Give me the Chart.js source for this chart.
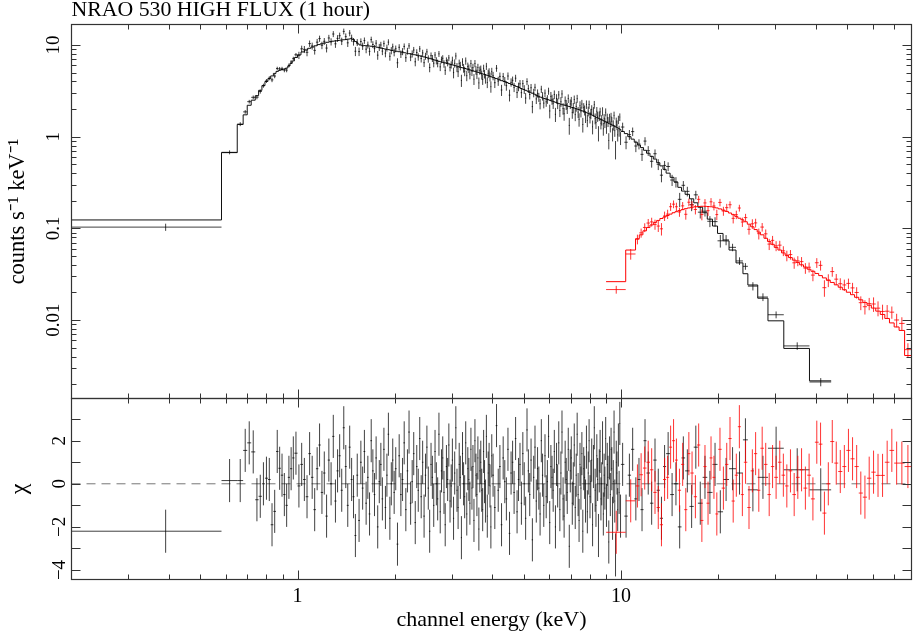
<!DOCTYPE html>
<html><head><meta charset="utf-8">
<script src="https://cdn.jsdelivr.net/npm/chart.js@4.4.1/dist/chart.umd.min.js"></script>
<style>
html,body{margin:0;padding:0;background:#fff;}
#wrap{position:relative;width:913px;height:634px;overflow:hidden;}
canvas{position:absolute;left:0;top:0;}
</style></head><body>
<div id="wrap"><canvas id="bot" width="913" height="634"></canvas><canvas id="top" width="913" height="634"></canvas></div>
<script>
// ---------------- text ----------------
const titleText = 'NRAO 530 HIGH FLUX (1 hour)';
const xTitle = 'channel energy (keV)';
const yTopTitle = 'counts s\u207B\u00B9 keV\u207B\u00B9';
const yBotTitle = '\u03C7';

// ---------------- axes ----------------
const xRange = [0.2, 79.2];
const yTopRange = [0.001393, 16.73];
const yBotRange = [-4.441, 3.958];
const xLabelTicks = [1, 10];
const xMinorTicks = [0.3,0.4,0.5,0.6,0.7,0.8,0.9,2,3,4,5,6,7,8,9,20,30,40,50,60,70];
const yTopLabelTicks = [0.01, 0.1, 1, 10];
const yTopMinorTicks = [0.002,0.003,0.004,0.005,0.006,0.007,0.008,0.009,0.02,0.03,0.04,0.05,0.06,0.07,0.08,0.09,0.2,0.3,0.4,0.5,0.6,0.7,0.8,0.9,2,3,4,5,6,7,8,9];
const yBotLabelTicks = [-4, -2, 0, 2];
const yBotMinorTicks = [-3, -1, 1, 3];

// ---------------- black model (step function, keV bin edges) ----------------
const blackModelEdges = [0.20,0.582,0.651,0.679,0.699,0.719,0.740,0.758,0.776,0.793,0.810,0.826,0.842,0.858,0.873,0.888,0.903,0.918,0.933,0.948,0.963,0.978,
1.000,1.025,1.050,1.075,1.100,1.125,1.150,1.175,1.200,1.225,1.250,1.275,1.300,1.325,1.350,1.375,1.400,1.425,1.450,1.475,1.500,1.525,1.550,1.575,1.600,1.625,1.650,1.675,1.700,1.725,1.750,1.775,1.800,1.825,1.850,1.875,1.900,1.925,1.950,1.975,
2.00,2.04,2.08,2.12,2.16,2.20,2.24,2.28,2.32,2.36,2.40,2.44,2.48,2.52,2.56,2.60,2.64,2.68,2.72,2.76,2.80,2.84,2.88,2.92,2.96,3.00,3.04,3.08,3.12,3.16,3.20,3.24,3.28,3.32,3.36,3.40,3.44,3.48,3.52,3.56,3.60,3.64,3.68,3.72,3.76,3.80,3.84,3.88,3.92,3.96,
4.00,4.08,4.16,4.24,4.32,4.40,4.48,4.56,4.64,4.72,4.80,4.88,4.96,5.04,5.12,5.20,5.28,5.36,5.44,5.52,5.60,5.68,5.76,5.84,5.92,6.00,6.08,6.16,6.24,6.32,6.40,6.48,6.56,6.64,6.72,6.80,6.88,6.96,7.04,7.12,7.20,7.28,7.36,7.44,7.52,7.60,7.68,7.76,7.84,7.92,8.00,8.08,8.16,8.24,8.32,8.40,8.48,8.56,8.64,8.72,8.80,8.88,8.96,9.04,9.12,9.20,9.28,9.36,9.44,9.52,9.60,9.68,9.76,9.84,9.92,
10.0,10.25,10.5,10.75,11.0,11.25,11.5,11.75,12.0,12.3,12.6,12.9,13.2,13.5,13.8,14.2,14.6,15.0,15.4,15.8,16.3,16.8,17.3,17.9,18.5,19.2,19.9,20.7,21.6,22.7,23.85,24.7,26.5,28.5,31.9,38.3,44.7];
const blackModel = [0.1235,0.67,1.36,1.73,2.2,2.5,2.8,3.2,3.6,4.0,4.3,4.6,4.9,5.15,5.3,5.4,5.45,5.6,5.9,6.3,6.7,7.3,
7.8,8.4,8.8,9.2,9.5,9.8,10.1,10.3,10.5,10.7,10.85,11.0,11.1,11.2,11.3,11.4,11.5,11.6,11.7,11.5,10.9,10.3,10.0,9.9,9.85,9.8,9.75,9.7,9.6,9.55,9.45,9.35,9.25,9.15,9.05,8.95,8.9,8.8,8.7,8.6,
8.55,8.45,8.34,8.24,8.14,8.04,7.94,7.83,7.73,7.63,7.52,7.41,7.30,7.19,7.08,6.96,6.85,6.74,6.63,6.54,6.46,6.38,6.30,6.22,6.14,6.06,5.98,5.90,5.81,5.73,5.67,5.60,5.54,5.47,5.41,5.34,5.28,5.21,5.15,5.08,5.02,4.95,4.89,4.84,4.78,4.72,4.67,4.61,4.55,4.50,
4.41,4.30,4.18,4.08,3.99,3.90,3.80,3.71,3.62,3.53,3.43,3.35,3.28,3.20,3.13,3.05,2.98,2.91,2.83,2.76,2.70,2.65,2.61,2.57,2.53,2.49,2.45,2.41,2.37,2.33,2.29,2.26,2.23,2.21,2.18,2.16,2.13,2.11,2.08,2.06,2.03,2.00,1.98,1.95,1.92,1.90,1.87,1.84,1.81,1.78,1.76,1.73,1.70,1.67,1.64,1.62,1.59,1.56,1.54,1.52,1.49,1.47,1.45,1.43,1.40,1.38,1.36,1.34,1.32,1.30,1.28,1.26,1.24,1.22,1.20,
1.14,1.08,1.0,0.94,0.87,0.81,0.76,0.71,0.66,0.61,0.57,0.52,0.48,0.44,0.40,0.36,0.32,0.28,0.255,0.235,0.21,0.19,0.17,0.148,0.126,0.106,0.088,0.073,0.058,0.042,0.032,0.0241,0.0173,0.0098,0.0049,0.00217];

// ---------------- black data bins (keV edges) and residuals (chi) ----------------
const blackDataEdges = [0.20,0.582,0.651,0.679,0.699,0.719,0.740,0.758,0.776,0.793,0.810,0.826,0.842,0.858,0.873,0.888,0.903,0.918,0.933,0.948,0.963,0.978,
1.00,1.02,1.04,1.06,1.08,1.10,1.12,1.14,1.16,1.18,1.20,1.22,1.24,1.26,1.28,1.30,1.32,1.34,1.36,1.38,1.40,1.42,1.44,1.46,1.48,1.50,1.52,1.54,1.56,1.58,1.60,1.62,1.64,1.66,1.68,1.70,1.72,1.74,1.76,1.78,1.80,1.82,1.84,1.86,1.88,1.90,1.92,1.94,1.96,1.98,
2.000,2.025,2.050,2.075,2.100,2.125,2.150,2.175,2.200,2.225,2.250,2.275,2.300,2.325,2.350,2.375,2.400,2.425,2.450,2.475,2.500,2.525,2.550,2.575,2.600,2.625,2.650,2.675,2.700,2.725,2.750,2.775,2.800,2.825,2.850,2.875,2.900,2.925,2.950,2.975,
3.000,3.025,3.050,3.075,3.100,3.125,3.150,3.175,3.200,3.225,3.250,3.275,3.300,3.325,3.350,3.375,3.400,3.425,3.450,3.475,3.500,3.525,3.550,3.575,3.600,3.625,3.650,3.675,3.700,3.725,3.750,3.775,3.800,3.825,3.850,3.875,3.900,3.925,3.950,3.975,
4.00,4.05,4.10,4.15,4.20,4.25,4.30,4.35,4.40,4.45,4.50,4.55,4.60,4.65,4.70,4.75,4.80,4.85,4.90,4.95,5.00,5.05,5.10,5.15,5.20,5.25,5.30,5.35,5.40,5.45,5.50,5.55,5.60,5.65,5.70,5.75,5.80,5.85,5.90,5.95,
6.00,6.05,6.10,6.15,6.20,6.25,6.30,6.35,6.40,6.45,6.50,6.55,6.60,6.65,6.70,6.75,6.80,6.85,6.90,6.95,7.00,7.05,7.10,7.15,7.20,7.25,7.30,7.35,7.40,7.45,7.50,7.55,7.60,7.65,7.70,7.75,7.80,7.85,7.90,7.95,
8.00,8.05,8.10,8.15,8.20,8.25,8.30,8.35,8.40,8.45,8.50,8.55,8.60,8.65,8.70,8.75,8.80,8.85,8.90,8.95,9.00,9.05,9.10,9.15,9.20,9.25,9.30,9.35,9.40,9.45,9.50,9.55,9.60,9.65,9.70,9.75,9.80,9.85,9.90,9.95,
10.0,10.25,10.5,10.75,11.0,11.25,11.5,11.75,12.0,12.3,12.6,12.9,13.2,13.5,13.8,14.2,14.6,15.0,15.4,15.8,16.3,16.8,17.3,17.9,18.5,19.2,19.9,20.7,21.6,22.7,23.85,24.7,26.5,28.5,31.9,38.3,44.7];
const blackChi = [-2.2,0.15,0.15,1.55,1.9,1.48,-0.74,-0.58,0.0,0.26,0.2,-1.9,-1.28,1.5,0.72,0.4,-0.5,-1.0,0.3,0.7,1.2,1.42,
-0.1,0.9,0.2,-0.6,1.4,0.3,-1.2,0.7,1.8,-0.4, 0.5,-1.5,1.1,0.0,2.2,-0.8,0.6,1.3,-0.3,2.6, 0.8,-1.0,1.7,0.2,-0.6,-2.4,0.4,-1.7,1.0,-0.2,
1.5,-0.9,0.3,-1.4,2.0,0.6,-0.5,1.2,-2.0,0.1, 0.9,-0.7,1.6,-1.1,0.4,2.3,-1.6,0.0,1.1,-0.4,
0.7,-2.8,1.3,-0.5,0.2,1.9,-1.2,0.6,2.4,-0.9, 0.1,1.4,-1.8,0.8,-0.3,2.1,-0.6,1.0,-1.5,0.4, 1.7,-0.2,-2.2,0.9,0.3,-1.0,1.5,0.0,-0.7,2.3, -1.3,0.6,1.2,-0.4,-1.9,0.8,0.2,1.8,-0.8,-0.1,
1.1,-1.6,0.5,2.6,-0.3,-1.1,0.9,0.3,-2.5,1.4, 0.0,-0.6,1.9,-1.4,0.7,0.2,-0.9,1.6,-0.2,0.8, -1.7,2.0,0.4,-0.5,1.2,-2.1,0.6,1.0,-0.3,-1.2, 1.5,0.1,-0.8,2.2,-1.5,0.5,0.9,-0.1,-2.0,1.3,
0.4,-1.1,2.7,-0.3,0.8,-1.9,1.2,0.1,-0.7,1.6, -2.3,0.5,1.0,-0.4,2.1,-1.3,0.2,0.9,-0.9,1.4, 0.0,-1.6,2.5,0.6,-0.5,1.1,-2.6,0.3,1.7,-0.8, 0.7,-0.2,-1.4,2.0,0.4,-1.0,1.3,-0.6,0.1,2.2,
-1.8,0.8,0.3,-0.3,1.5,-2.0,0.9,-0.1,1.9,-1.2, 0.5,2.4,-0.7,-1.5,1.0,0.2,-0.4,1.6,-2.9,0.6, 1.2,-0.9,0.0,1.8,-1.1,0.4,2.3,-0.5,-1.7,0.9, -0.2,1.4,-2.2,0.7,0.3,-0.8,1.7,-1.3,0.5,2.0,
-0.6,0.1,1.1,-1.9,0.8,2.6,-0.3,-1.0,1.3,0.2, -2.4,0.6,1.5,-0.7,0.0,1.9,-1.4,0.4,-0.2,2.1, -1.0,0.9,0.3,-2.7,1.2,-0.5,1.6,0.7,-1.6,0.1, 2.4,-0.8,-3.3,1.0,0.5,-1.2,1.8,-0.4,2.8,-1.5,
0.9,-1.5,0.4,1.6,-0.7,0.2,-1.2,2.0,0.5,-0.9,1.1,-0.3,-1.6,0.8,1.4,-0.5,0.0,-2.0,1.2,0.6,-1.05,1.7,-0.9,0.3,-0.4,0.9,-1.3,0.2,0.7,0.5,2.04,-0.28,0.3,1.65,0.65,-0.28];
// fractional 1-sigma errors of the black data, per energy band
const blackErrBandEdges = [0.6, 1, 3, 6, 10, 22];
const blackErrBandVals = [0.075, 0.05, 0.09, 0.11, 0.13, 0.13, 0.10];

// ---------------- red spectrum (model and data share bins) ----------------
const redEdges = [9.0,10.35,11.1,11.4,11.7,12.0,12.3,12.6,12.9,13.2,13.5,13.8,14.1,14.4,14.7,15.0,15.35,15.7,16.05,16.4,16.8,17.2,17.6,18.0,18.4,18.8,19.2,19.6,20.0,20.5,21.0,21.5,22.0,22.5,23.0,23.5,24.0,24.6,25.2,25.8,26.4,27.0,27.7,28.4,29.1,29.8,30.6,31.4,32.2,33.0,33.9,34.8,35.7,36.7,37.7,38.7,39.8,40.9,42.0,43.2,44.4,45.7,47.0,48.4,49.8,51.3,52.8,54.4,56.0,57.7,59.5,61.4,63.4,65.5,67.7,70.0,72.5,75.4,79.0];
const redModel = [0.0262,0.058,0.077,0.085,0.094,0.102,0.109,0.116,0.122,0.128,0.133,0.138,0.143,0.148,0.152,0.156,0.160,0.164,0.167,0.170,0.172,0.173,0.174,0.174,0.173,0.172,0.170,0.167,0.163,0.158,0.153,0.147,0.141,0.135,0.129,0.124,0.118,0.111,0.104,0.097,0.091,0.085,0.078,0.072,0.067,0.062,0.058,0.054,0.051,0.048,0.045,0.0425,0.040,0.0378,0.0358,0.034,0.0322,0.0305,0.0288,0.0272,0.0257,0.0242,0.0228,0.0214,0.0201,0.0189,0.0177,0.0166,0.0155,0.0145,0.0135,0.0125,0.0115,0.0104,0.0093,0.0084,0.0077,0.0041];
const redChi = [-2.25,-0.79,-0.1,0.42,0.73,1.0,0.65,-0.4,-1.1,-1.9,0.2,0.3,1.7,2.0,1.1,-0.3,0.9,-1.2,1.4,0.5,-0.6,1.8,-1.7,0.8,-0.9,1.2,0.3,-1.4,1.6,-0.2,0.9,2.1,-0.8,0.4,2.65,-0.5,1.0,-1.1,0.6,1.4,-0.3,1.65,0.9,-0.5,0.8,0.3,1.0,0.4,-0.1,0.6,-0.5,0.3,0.65,-0.2,0.4,-0.7,1.93,1.84,-1.36,0.0,1.96,0.96,0.57,0.8,1.55,1.16,0.8,-0.43,-0.62,0.26,0.54,0.39,0.39,1.0,1.55,0.96,0.96,0.8];
const redErrBandEdges = [10.35, 15, 25, 40, 60];
const redErrBandVals = [0.08, 0.12, 0.11, 0.13, 0.16, 0.20];

// ---------------- helpers ----------------
function band(e, edges, vals){ let k = 0; while (k < edges.length && e >= edges[k]) k++; return vals[k]; }
function stepLookup(e, edges, vals){ let k = 0; while (k < vals.length - 1 && e >= edges[k+1]) k++; return vals[k]; }
function crossPoints(edges, vals, errs){
  const pts = [];
  for (let i = 0; i < vals.length; i++) {
    const lo = edges[i], hi = edges[i+1], c = (lo + hi) / 2, v = vals[i], e = errs[i];
    pts.push({x: lo, y: v}, {x: hi, y: v}, {x: hi, y: null},
             {x: c, y: v - e}, {x: c, y: v + e}, {x: c, y: null});
  }
  return pts;
}
function stepPoints(edges, model){
  const pts = model.map((m, i) => ({x: edges[i], y: m}));
  pts.push({x: edges[edges.length-1], y: model[model.length-1]});
  return pts;
}
function spectrum(dEdges, chi, mEdges, model, bEdges, bVals){
  const vals = [], errs = [];
  for (let i = 0; i < chi.length; i++) {
    const c = (dEdges[i] + dEdges[i+1]) / 2;
    const m = stepLookup(c, mEdges, model);
    const err = m * band(c, bEdges, bVals);
    errs.push(err); vals.push(m + chi[i] * err);
  }
  return {vals, errs};
}
const blk = spectrum(blackDataEdges, blackChi, blackModelEdges, blackModel, blackErrBandEdges, blackErrBandVals);
const red = spectrum(redEdges, redChi, redEdges, redModel, redErrBandEdges, redErrBandVals);
const ones = n => new Array(n).fill(1);

// ---------------- frame / inward tick plugin ----------------
const frameTicks = {
  id: 'frameTicks',
  afterDraw(chart, args, o) {
    const {ctx, chartArea: a} = chart;
    const xs = chart.scales.x, ys = chart.scales.y;
    const X = v => Math.round(xs.getPixelForValue(v)) + 0.5;
    const Y = v => Math.round(ys.getPixelForValue(v)) + 0.5;
    ctx.save();
    ctx.lineWidth = 1;
    ctx.strokeStyle = o.color;
    ctx.beginPath();
    [[o.xMajor, o.majorLen], [o.xMinor, o.minorLen]].forEach(([vals, len]) => {
      vals.forEach(v => { const p = X(v);
        ctx.moveTo(p, a.top); ctx.lineTo(p, a.top + len);
        ctx.moveTo(p, a.bottom); ctx.lineTo(p, a.bottom - len); });
    });
    [[o.yMajor, o.yMajorLen], [o.yMinor, o.yMinorLen]].forEach(([vals, len]) => {
      vals.forEach(v => { const p = Y(v);
        ctx.moveTo(a.left, p); ctx.lineTo(a.left + len, p);
        ctx.moveTo(a.right, p); ctx.lineTo(a.right - len, p); });
    });
    ctx.stroke();
    ctx.lineWidth = 1.2;
    ctx.strokeRect(a.left, a.top, a.right - a.left, a.bottom - a.top);
    ctx.restore();
  }
};

const FONT = "'Liberation Serif', 'Times New Roman', serif";
Chart.defaults.font.family = FONT;
Chart.defaults.color = '#000';

const BLACK_BAR = 'rgba(0,0,0,0.75)';
const RED_BAR = 'rgba(255,0,0,0.8)';
const lineDs = (data, color, extra) => Object.assign({type: 'line', data, borderColor: color, borderWidth: 1,
  pointRadius: 0, tension: 0, spanGaps: false, fill: false}, extra || {});

const fmtY = v => (v < 0 ? '\u2212' + Math.abs(v) : String(v));

// ---------------- top panel ----------------
new Chart(document.getElementById('top'), {
  type: 'line',
  data: { datasets: [
    lineDs(crossPoints(redEdges, red.vals, red.errs), RED_BAR, {order: 1}),
    lineDs(stepPoints(redEdges, redModel), '#ff0000', {stepped: true, order: 2}),
    lineDs(crossPoints(blackDataEdges, blk.vals, blk.errs), BLACK_BAR, {order: 3}),
    lineDs(stepPoints(blackModelEdges, blackModel), '#111', {stepped: true, order: 4})
  ]},
  options: {
    responsive: false, animation: false, events: [],
    layout: { padding: {left: 0, right: 1.5, top: 0, bottom: 235.5} },
    plugins: {
      legend: {display: false}, tooltip: {enabled: false},
      title: {display: true, text: titleText, align: 'start', fullSize: false, color: '#000',
        font: {family: FONT, size: 21.8, weight: 'normal', lineHeight: '16.5px'}, padding: {top: 2.5, bottom: 5.5}},
      frameTicks: {color: '#333', xMajor: xLabelTicks, xMinor: xMinorTicks, majorLen: 9, minorLen: 5,
        yMajor: yTopLabelTicks, yMinor: yTopMinorTicks, yMajorLen: 9, yMinorLen: 5}
    },
    scales: {
      x: {type: 'logarithmic', min: xRange[0], max: xRange[1], display: false},
      y: {type: 'logarithmic', min: yTopRange[0], max: yTopRange[1],
        afterBuildTicks: s => { s.ticks = yTopLabelTicks.map(v => ({value: v})); },
        afterFit: s => { s.width = 71.5; },
        grid: {display: false, drawTicks: false}, border: {display: false},
        ticks: {font: {size: 19}, color: '#000', minRotation: 90, maxRotation: 90, crossAlign: 'center', padding: 1,
          autoSkip: false, callback: v => String(v)},
        title: {display: true, text: yTopTitle, color: '#000', font: {size: 22.5}, padding: {top: 5, bottom: 0}}
      }
    }
  },
  plugins: [frameTicks]
});

// ---------------- residual panel ----------------
new Chart(document.getElementById('bot'), {
  type: 'line',
  data: { datasets: [
    lineDs(crossPoints(redEdges, redChi, ones(redChi.length)), RED_BAR, {order: 1}),
    lineDs(crossPoints(blackDataEdges, blackChi, ones(blackChi.length)), BLACK_BAR, {order: 2}),
    lineDs([{x: xRange[0], y: 0}, {x: xRange[1], y: 0}], '#777', {borderDash: [9, 6], order: 3})
  ]},
  options: {
    responsive: false, animation: false, events: [],
    layout: { padding: {left: 0, right: 1.5, top: 398.5, bottom: 0} },
    plugins: {
      legend: {display: false}, tooltip: {enabled: false},
      frameTicks: {color: '#333', xMajor: xLabelTicks, xMinor: xMinorTicks, majorLen: 9, minorLen: 5,
        yMajor: yBotLabelTicks, yMinor: yBotMinorTicks, yMajorLen: 9, yMinorLen: 9}
    },
    scales: {
      x: {type: 'logarithmic', min: xRange[0], max: xRange[1], position: 'bottom',
        afterBuildTicks: s => { s.ticks = xLabelTicks.map(v => ({value: v})); },
        afterFit: s => { s.height = 54.5; },
        grid: {display: false, drawTicks: false}, border: {display: false},
        ticks: {font: {size: 20}, color: '#000', padding: 5, maxRotation: 0, autoSkip: false, callback: v => String(v)},
        title: {display: true, text: xTitle, color: '#000', font: {size: 22}, padding: {top: 0, bottom: 1}}
      },
      y: {type: 'linear', min: yBotRange[0], max: yBotRange[1],
        afterBuildTicks: s => { s.ticks = yBotLabelTicks.map(v => ({value: v})); },
        afterFit: s => { s.width = 71.5; },
        grid: {display: false, drawTicks: false}, border: {display: false},
        ticks: {font: {size: 19}, color: '#000', minRotation: 90, maxRotation: 90, crossAlign: 'center', padding: 1,
          autoSkip: false, callback: fmtY},
        title: {display: true, text: yBotTitle, color: '#000', font: {size: 24}, padding: {top: 5, bottom: 0}}
      }
    }
  },
  plugins: [frameTicks]
});
</script>
</body></html>
